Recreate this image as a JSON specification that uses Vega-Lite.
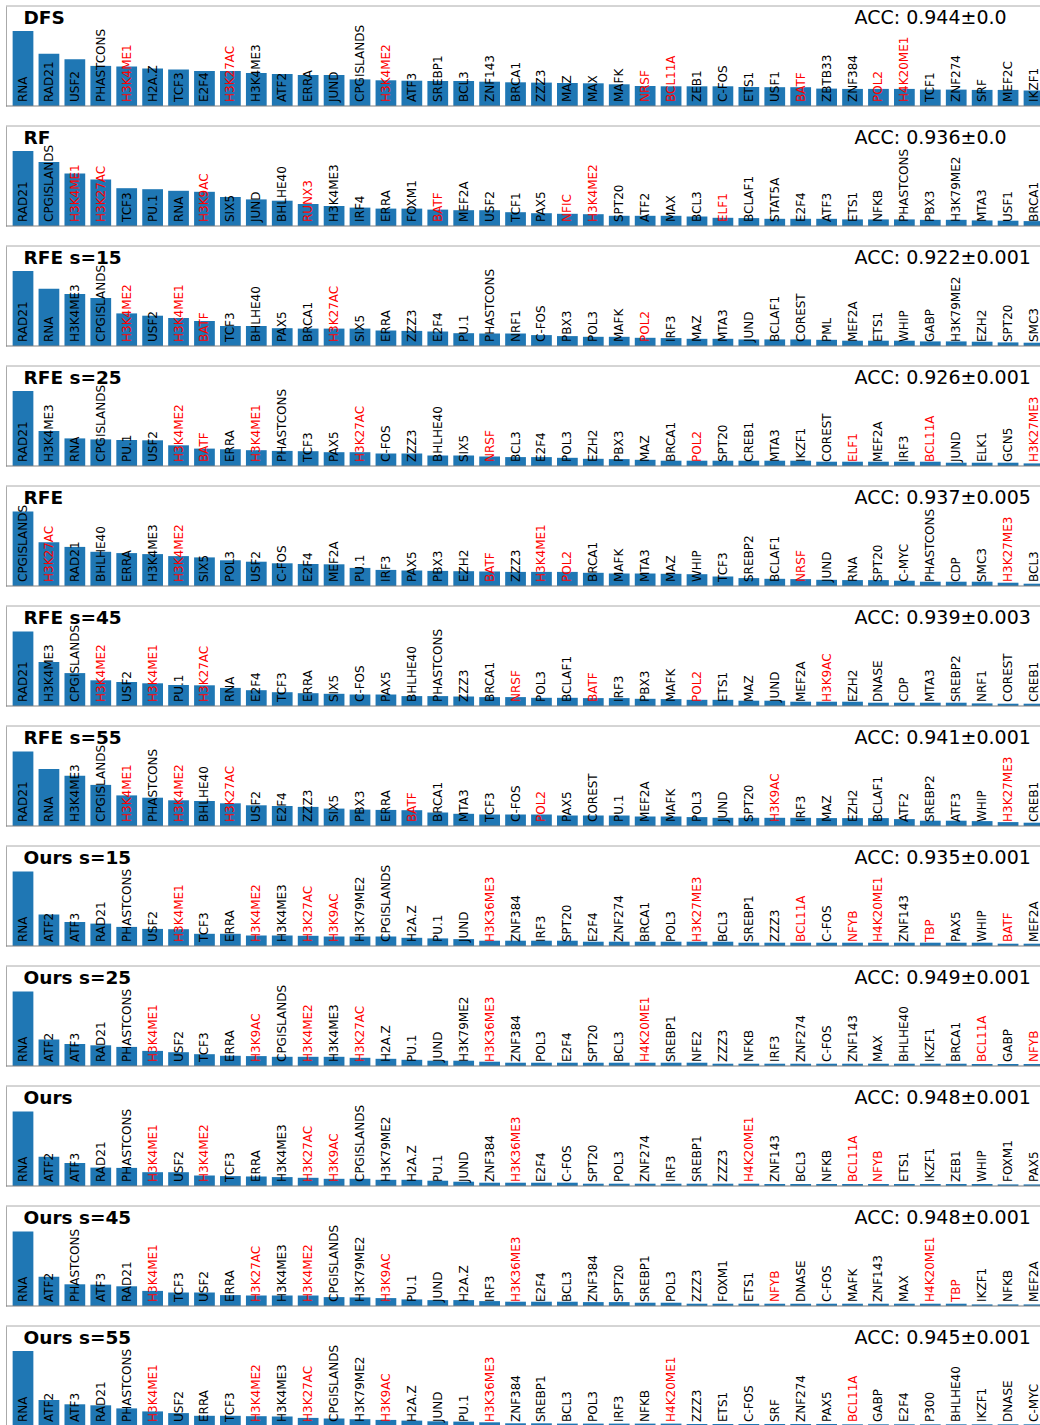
{
"$schema": "https://vega.github.io/schema/vega-lite/v6.json",
"padding": {"left": 5, "top": 5, "right": 0, "bottom": 0},
"spacing": 20,
"bounds": "flush",
"config": {
  "font": "DejaVu Sans",
  "view": {"stroke": null},
  "bar": {"color": "#1f77b4"},
  "scale": {"bandPaddingInner": 0.2, "bandPaddingOuter": 0.256},
  "axis": {"labels": false, "ticks": false, "grid": false, "minExtent": 0, "domainColor": "#aaaaaa", "titleColor": "#000000", "titleBaseline": "alphabetic", "titleY": 17},
  "axisX": {"domain": false, "titleX": 848, "titleAlign": "left", "titleFontSize": 19, "titleFontWeight": "normal"},
  "axisY": {"titleAngle": 0, "titleX": 17, "titleAlign": "left", "titleFontSize": 18.5, "titleFontWeight": "bold"}
},
"datasets": {
"p1": [
{"f":"RNA","v":75,"r":0},{"f":"RAD21","v":52.3,"r":0},{"f":"USF2","v":46.7,"r":0},{"f":"PHASTCONS","v":40.1,"r":0},{"f":"H3K4ME1","v":39.5,"r":1},{"f":"H2A.Z","v":37.5,"r":0},{"f":"TCF3","v":36.5,"r":0},{"f":"E2F4","v":35,"r":0},{"f":"H3K27AC","v":35,"r":1},{"f":"H3K4ME3","v":33,"r":0},{"f":"ATF2","v":32,"r":0},{"f":"ERRA","v":31,"r":0},{"f":"JUND","v":31,"r":0},{"f":"CPGISLANDS","v":26.6,"r":0},{"f":"H3K4ME2","v":25.7,"r":1},{"f":"ATF3","v":25.3,"r":0},{"f":"SREBP1","v":25,"r":0},{"f":"BCL3","v":25,"r":0},{"f":"ZNF143","v":24.3,"r":0},{"f":"BRCA1","v":23.7,"r":0},{"f":"ZZZ3","v":23.4,"r":0},{"f":"MAZ","v":23,"r":0},{"f":"MAX","v":22.7,"r":0},{"f":"MAFK","v":21.7,"r":0},{"f":"NRSF","v":20,"r":1},{"f":"BCL11A","v":19.7,"r":1},{"f":"ZEB1","v":19.7,"r":0},{"f":"C-FOS","v":19.7,"r":0},{"f":"ETS1","v":19,"r":0},{"f":"USF1","v":18.8,"r":0},{"f":"BATF","v":18.8,"r":1},{"f":"ZBTB33","v":17.4,"r":0},{"f":"ZNF384","v":17.1,"r":0},{"f":"POL2","v":17.1,"r":1},{"f":"H4K20ME1","v":17.1,"r":1},{"f":"TCF1","v":16.4,"r":0},{"f":"ZNF274","v":16.4,"r":0},{"f":"SRF","v":16.1,"r":0},{"f":"MEF2C","v":16.1,"r":0},{"f":"IKZF1","v":15.5,"r":0}
],
"p2": [
{"f":"RAD21","v":75,"r":0},{"f":"CPGISLANDS","v":64,"r":0},{"f":"H3K4ME1","v":52.6,"r":1},{"f":"H3K27AC","v":46.4,"r":1},{"f":"TCF3","v":37.8,"r":0},{"f":"PU.1","v":36.8,"r":0},{"f":"RNA","v":35.2,"r":0},{"f":"H3K9AC","v":34.2,"r":1},{"f":"SIX5","v":29,"r":0},{"f":"JUND","v":26.6,"r":0},{"f":"BHLHE40","v":25.3,"r":0},{"f":"RUNX3","v":22,"r":1},{"f":"H3K4ME3","v":20,"r":0},{"f":"IRF4","v":18.4,"r":0},{"f":"ERRA","v":17.4,"r":0},{"f":"FOXM1","v":17.4,"r":0},{"f":"BATF","v":16.4,"r":1},{"f":"MEF2A","v":15.8,"r":0},{"f":"USF2","v":15.8,"r":0},{"f":"TCF1","v":13.8,"r":0},{"f":"PAX5","v":12.8,"r":0},{"f":"NFIC","v":12.2,"r":1},{"f":"H3K4ME2","v":11.8,"r":1},{"f":"SPT20","v":10.2,"r":0},{"f":"ATF2","v":10.2,"r":0},{"f":"MAX","v":10.2,"r":0},{"f":"BCL3","v":9.5,"r":0},{"f":"ELF1","v":8.2,"r":1},{"f":"BCLAF1","v":7.9,"r":0},{"f":"STAT5A","v":7.2,"r":0},{"f":"E2F4","v":7.2,"r":0},{"f":"ATF3","v":7.2,"r":0},{"f":"ETS1","v":6.6,"r":0},{"f":"NFKB","v":6.6,"r":0},{"f":"PHASTCONS","v":6.6,"r":0},{"f":"PBX3","v":6.2,"r":0},{"f":"H3K79ME2","v":6.2,"r":0},{"f":"MTA3","v":5.6,"r":0},{"f":"USF1","v":5.3,"r":0},{"f":"BRCA1","v":4.9,"r":0}
],
"p3": [
{"f":"RAD21","v":75,"r":0},{"f":"RNA","v":57.2,"r":0},{"f":"H3K4ME3","v":52,"r":0},{"f":"CPGISLANDS","v":48,"r":0},{"f":"H3K4ME2","v":32.6,"r":1},{"f":"USF2","v":30.3,"r":0},{"f":"H3K4ME1","v":28,"r":1},{"f":"BATF","v":25,"r":1},{"f":"TCF3","v":20,"r":0},{"f":"BHLHE40","v":20,"r":0},{"f":"PAX5","v":17.8,"r":0},{"f":"BRCA1","v":17.4,"r":0},{"f":"H3K27AC","v":17.4,"r":1},{"f":"SIX5","v":17.4,"r":0},{"f":"ERRA","v":15.5,"r":0},{"f":"ZZZ3","v":15.1,"r":0},{"f":"E2F4","v":14.5,"r":0},{"f":"PU.1","v":12.8,"r":0},{"f":"PHASTCONS","v":12.5,"r":0},{"f":"NRF1","v":12.5,"r":0},{"f":"C-FOS","v":10.9,"r":0},{"f":"PBX3","v":9.9,"r":0},{"f":"POL3","v":9.2,"r":0},{"f":"MAFK","v":9.2,"r":0},{"f":"POL2","v":8.2,"r":1},{"f":"IRF3","v":7.9,"r":0},{"f":"MAZ","v":7.2,"r":0},{"f":"MTA3","v":7.2,"r":0},{"f":"JUND","v":6.6,"r":0},{"f":"BCLAF1","v":6.6,"r":0},{"f":"COREST","v":6.6,"r":0},{"f":"PML","v":6.2,"r":0},{"f":"MEF2A","v":5.3,"r":0},{"f":"ETS1","v":5.3,"r":0},{"f":"WHIP","v":5.3,"r":0},{"f":"GABP","v":4.6,"r":0},{"f":"H3K79ME2","v":4.6,"r":0},{"f":"EZH2","v":4.3,"r":0},{"f":"SPT20","v":3.6,"r":0},{"f":"SMC3","v":3.3,"r":0}
],
"p4": [
{"f":"RAD21","v":75,"r":0},{"f":"H3K4ME3","v":34.9,"r":0},{"f":"RNA","v":27.6,"r":0},{"f":"CPGISLANDS","v":26.6,"r":0},{"f":"PU.1","v":26,"r":0},{"f":"USF2","v":25.7,"r":0},{"f":"H3K4ME2","v":20.7,"r":1},{"f":"BATF","v":17.4,"r":1},{"f":"ERRA","v":16.8,"r":0},{"f":"H3K4ME1","v":15.8,"r":1},{"f":"PHASTCONS","v":15.1,"r":0},{"f":"TCF3","v":14.8,"r":0},{"f":"PAX5","v":13.8,"r":0},{"f":"H3K27AC","v":13.8,"r":1},{"f":"C-FOS","v":12.5,"r":0},{"f":"ZZZ3","v":12.5,"r":0},{"f":"BHLHE40","v":10.5,"r":0},{"f":"SIX5","v":10.5,"r":0},{"f":"NRSF","v":9.5,"r":1},{"f":"BCL3","v":8.9,"r":0},{"f":"E2F4","v":8.9,"r":0},{"f":"POL3","v":8.2,"r":0},{"f":"EZH2","v":7.2,"r":0},{"f":"PBX3","v":6.9,"r":0},{"f":"MAZ","v":6.2,"r":0},{"f":"BRCA1","v":5.3,"r":0},{"f":"POL2","v":5.3,"r":1},{"f":"SPT20","v":5.3,"r":0},{"f":"CREB1","v":5.3,"r":0},{"f":"MTA3","v":5.3,"r":0},{"f":"IKZF1","v":5.3,"r":0},{"f":"COREST","v":4.3,"r":0},{"f":"ELF1","v":4.3,"r":1},{"f":"MEF2A","v":4.3,"r":0},{"f":"IRF3","v":4.3,"r":0},{"f":"BCL11A","v":4.3,"r":1},{"f":"JUND","v":3.3,"r":0},{"f":"ELK1","v":3.3,"r":0},{"f":"GCN5","v":3.3,"r":0},{"f":"H3K27ME3","v":2.6,"r":1}
],
"p5": [
{"f":"CPGISLANDS","v":74.5,"r":0},{"f":"H3K27AC","v":43.8,"r":1},{"f":"RAD21","v":39.1,"r":0},{"f":"BHLHE40","v":34.2,"r":0},{"f":"ERRA","v":32.9,"r":0},{"f":"H3K4ME3","v":31.9,"r":0},{"f":"H3K4ME2","v":29.9,"r":1},{"f":"SIX5","v":28.6,"r":0},{"f":"POL3","v":25.7,"r":0},{"f":"USF2","v":24.3,"r":0},{"f":"C-FOS","v":22.7,"r":0},{"f":"E2F4","v":22,"r":0},{"f":"MEF2A","v":21.7,"r":0},{"f":"PU.1","v":18.1,"r":0},{"f":"IRF3","v":16.1,"r":0},{"f":"PAX5","v":15.5,"r":0},{"f":"PBX3","v":15.1,"r":0},{"f":"EZH2","v":14.8,"r":0},{"f":"BATF","v":14.5,"r":1},{"f":"ZZZ3","v":14.1,"r":0},{"f":"H3K4ME1","v":14.1,"r":1},{"f":"POL2","v":14.1,"r":1},{"f":"BRCA1","v":13.2,"r":0},{"f":"MAFK","v":12.5,"r":0},{"f":"MTA3","v":12.5,"r":0},{"f":"MAZ","v":12.2,"r":0},{"f":"WHIP","v":11.8,"r":0},{"f":"TCF3","v":9.5,"r":0},{"f":"SREBP2","v":7.9,"r":0},{"f":"BCLAF1","v":7.2,"r":0},{"f":"NRSF","v":6.9,"r":1},{"f":"JUND","v":6.2,"r":0},{"f":"RNA","v":5.9,"r":0},{"f":"SPT20","v":5.9,"r":0},{"f":"C-MYC","v":5.3,"r":0},{"f":"PHASTCONS","v":4.3,"r":0},{"f":"CDP","v":4.3,"r":0},{"f":"SMC3","v":4.3,"r":0},{"f":"H3K27ME3","v":3.3,"r":1},{"f":"BCL3","v":2.3,"r":0}
],
"p6": [
{"f":"RAD21","v":74.5,"r":0},{"f":"H3K4ME3","v":44,"r":0},{"f":"CPGISLANDS","v":32.9,"r":0},{"f":"H3K4ME2","v":25.7,"r":1},{"f":"USF2","v":24,"r":0},{"f":"H3K4ME1","v":22.7,"r":1},{"f":"PU.1","v":21,"r":0},{"f":"H3K27AC","v":20.7,"r":1},{"f":"RNA","v":18.1,"r":0},{"f":"E2F4","v":15.8,"r":0},{"f":"TCF3","v":13.8,"r":0},{"f":"ERRA","v":12.8,"r":0},{"f":"SIX5","v":12.2,"r":0},{"f":"C-FOS","v":11.5,"r":0},{"f":"PAX5","v":11.5,"r":0},{"f":"BHLHE40","v":9.9,"r":0},{"f":"PHASTCONS","v":9.9,"r":0},{"f":"ZZZ3","v":9.5,"r":0},{"f":"BRCA1","v":8.9,"r":0},{"f":"NRSF","v":8.9,"r":1},{"f":"POL3","v":8.2,"r":0},{"f":"BCLAF1","v":8.2,"r":0},{"f":"BATF","v":7.9,"r":1},{"f":"IRF3","v":7.9,"r":0},{"f":"PBX3","v":7.2,"r":0},{"f":"MAFK","v":6.9,"r":0},{"f":"POL2","v":6.2,"r":1},{"f":"ETS1","v":6.2,"r":0},{"f":"MAZ","v":5.3,"r":0},{"f":"JUND","v":5.3,"r":0},{"f":"MEF2A","v":4.3,"r":0},{"f":"H3K9AC","v":4.3,"r":1},{"f":"EZH2","v":4.3,"r":0},{"f":"DNASE","v":3.3,"r":0},{"f":"CDP","v":3.3,"r":0},{"f":"MTA3","v":3.3,"r":0},{"f":"SREBP2","v":3.3,"r":0},{"f":"NRF1","v":2.6,"r":0},{"f":"COREST","v":2.3,"r":0},{"f":"CREB1","v":2.3,"r":0}
],
"p7": [
{"f":"RAD21","v":74.5,"r":0},{"f":"RNA","v":56.9,"r":0},{"f":"H3K4ME3","v":50.3,"r":0},{"f":"CPGISLANDS","v":41.1,"r":0},{"f":"H3K4ME1","v":30.6,"r":1},{"f":"PHASTCONS","v":28.3,"r":0},{"f":"H3K4ME2","v":25.7,"r":1},{"f":"BHLHE40","v":25,"r":0},{"f":"H3K27AC","v":22.7,"r":1},{"f":"USF2","v":20.7,"r":0},{"f":"E2F4","v":20,"r":0},{"f":"ZZZ3","v":19.1,"r":0},{"f":"SIX5","v":17.4,"r":0},{"f":"PBX3","v":16.4,"r":0},{"f":"ERRA","v":16.1,"r":0},{"f":"BATF","v":15.8,"r":1},{"f":"BRCA1","v":13.5,"r":0},{"f":"MTA3","v":12.2,"r":0},{"f":"TCF3","v":11.5,"r":0},{"f":"C-FOS","v":11.5,"r":0},{"f":"POL2","v":11.5,"r":1},{"f":"PAX5","v":10.5,"r":0},{"f":"COREST","v":10.5,"r":0},{"f":"PU.1","v":10.5,"r":0},{"f":"MEF2A","v":9.5,"r":0},{"f":"MAFK","v":9.5,"r":0},{"f":"POL3","v":8.9,"r":0},{"f":"JUND","v":8.2,"r":0},{"f":"SPT20","v":8.2,"r":0},{"f":"H3K9AC","v":8.2,"r":1},{"f":"IRF3","v":8.2,"r":0},{"f":"MAZ","v":7.9,"r":0},{"f":"EZH2","v":7.9,"r":0},{"f":"BCLAF1","v":7.9,"r":0},{"f":"ATF2","v":6.9,"r":0},{"f":"SREBP2","v":5.3,"r":0},{"f":"ATF3","v":5.3,"r":0},{"f":"WHIP","v":4.9,"r":0},{"f":"H3K27ME3","v":3.9,"r":1},{"f":"CREB1","v":3.3,"r":0}
],
"p8": [
{"f":"RNA","v":74.5,"r":0},{"f":"ATF2","v":31.6,"r":0},{"f":"ATF3","v":24,"r":0},{"f":"RAD21","v":22.4,"r":0},{"f":"PHASTCONS","v":19.1,"r":0},{"f":"USF2","v":17.1,"r":0},{"f":"H3K4ME1","v":16.8,"r":1},{"f":"TCF3","v":12.2,"r":0},{"f":"ERRA","v":12.2,"r":0},{"f":"H3K4ME2","v":10.5,"r":1},{"f":"H3K4ME3","v":10.5,"r":0},{"f":"H3K27AC","v":10.2,"r":1},{"f":"H3K9AC","v":9.5,"r":1},{"f":"H3K79ME2","v":9.5,"r":0},{"f":"CPGISLANDS","v":9.5,"r":0},{"f":"H2A.Z","v":8.2,"r":0},{"f":"PU.1","v":7.6,"r":0},{"f":"JUND","v":6.9,"r":0},{"f":"H3K36ME3","v":5.3,"r":1},{"f":"ZNF384","v":5.3,"r":0},{"f":"IRF3","v":5.3,"r":0},{"f":"SPT20","v":5.3,"r":0},{"f":"E2F4","v":4.3,"r":0},{"f":"ZNF274","v":4.3,"r":0},{"f":"BRCA1","v":4.3,"r":0},{"f":"POL3","v":4.3,"r":0},{"f":"H3K27ME3","v":4.3,"r":1},{"f":"BCL3","v":4.3,"r":0},{"f":"SREBP1","v":3.3,"r":0},{"f":"ZZZ3","v":3.3,"r":0},{"f":"BCL11A","v":3.3,"r":1},{"f":"C-FOS","v":3.3,"r":0},{"f":"NFYB","v":3.3,"r":1},{"f":"H4K20ME1","v":3.3,"r":1},{"f":"ZNF143","v":3.3,"r":0},{"f":"TBP","v":3.3,"r":1},{"f":"PAX5","v":3.3,"r":0},{"f":"WHIP","v":3.3,"r":0},{"f":"BATF","v":2.3,"r":1},{"f":"MEF2A","v":2.3,"r":0}
],
"p9": [
{"f":"RNA","v":74.5,"r":0},{"f":"ATF2","v":26.6,"r":0},{"f":"ATF3","v":22,"r":0},{"f":"RAD21","v":20.7,"r":0},{"f":"PHASTCONS","v":19.1,"r":0},{"f":"H3K4ME1","v":15.1,"r":1},{"f":"USF2","v":13.8,"r":0},{"f":"TCF3","v":11.8,"r":0},{"f":"ERRA","v":10.2,"r":0},{"f":"H3K9AC","v":9.9,"r":1},{"f":"CPGISLANDS","v":9.2,"r":0},{"f":"H3K4ME2","v":9.2,"r":1},{"f":"H3K4ME3","v":9.2,"r":0},{"f":"H3K27AC","v":8.2,"r":1},{"f":"H2A.Z","v":7.2,"r":0},{"f":"PU.1","v":6.2,"r":0},{"f":"JUND","v":5.3,"r":0},{"f":"H3K79ME2","v":5.3,"r":0},{"f":"H3K36ME3","v":4.3,"r":1},{"f":"ZNF384","v":3.3,"r":0},{"f":"POL3","v":3.3,"r":0},{"f":"E2F4","v":3.3,"r":0},{"f":"SPT20","v":3.3,"r":0},{"f":"BCL3","v":3.3,"r":0},{"f":"H4K20ME1","v":3.3,"r":1},{"f":"SREBP1","v":3.3,"r":0},{"f":"NFE2","v":3.3,"r":0},{"f":"ZZZ3","v":2.3,"r":0},{"f":"NFKB","v":2.3,"r":0},{"f":"IRF3","v":2.3,"r":0},{"f":"ZNF274","v":2.3,"r":0},{"f":"C-FOS","v":2.3,"r":0},{"f":"ZNF143","v":2.3,"r":0},{"f":"MAX","v":2.3,"r":0},{"f":"BHLHE40","v":2.3,"r":0},{"f":"IKZF1","v":2.3,"r":0},{"f":"BRCA1","v":2.3,"r":0},{"f":"BCL11A","v":2,"r":1},{"f":"GABP","v":2,"r":0},{"f":"NFYB","v":2,"r":1}
],
"p10": [
{"f":"RNA","v":74.5,"r":0},{"f":"ATF2","v":29.3,"r":0},{"f":"ATF3","v":23,"r":0},{"f":"RAD21","v":18.4,"r":0},{"f":"PHASTCONS","v":18.1,"r":0},{"f":"H3K4ME1","v":13.8,"r":1},{"f":"USF2","v":13.8,"r":0},{"f":"H3K4ME2","v":10.5,"r":1},{"f":"TCF3","v":9.9,"r":0},{"f":"ERRA","v":9.5,"r":0},{"f":"H3K4ME3","v":8.9,"r":0},{"f":"H3K27AC","v":8.2,"r":1},{"f":"H3K9AC","v":7.2,"r":1},{"f":"CPGISLANDS","v":7.2,"r":0},{"f":"H3K79ME2","v":6.2,"r":0},{"f":"H2A.Z","v":6.2,"r":0},{"f":"PU.1","v":5.3,"r":0},{"f":"JUND","v":4.3,"r":0},{"f":"ZNF384","v":3.3,"r":0},{"f":"H3K36ME3","v":3.3,"r":1},{"f":"E2F4","v":3.3,"r":0},{"f":"C-FOS","v":3.3,"r":0},{"f":"SPT20","v":2.3,"r":0},{"f":"POL3","v":2.3,"r":0},{"f":"ZNF274","v":2.3,"r":0},{"f":"IRF3","v":2.3,"r":0},{"f":"SREBP1","v":2.3,"r":0},{"f":"ZZZ3","v":2.3,"r":0},{"f":"H4K20ME1","v":2.3,"r":1},{"f":"ZNF143","v":2,"r":0},{"f":"BCL3","v":2,"r":0},{"f":"NFKB","v":2,"r":0},{"f":"BCL11A","v":2,"r":1},{"f":"NFYB","v":2,"r":1},{"f":"ETS1","v":2,"r":0},{"f":"IKZF1","v":2,"r":0},{"f":"ZEB1","v":2,"r":0},{"f":"WHIP","v":2,"r":0},{"f":"FOXM1","v":1.6,"r":0},{"f":"PAX5","v":1.6,"r":0}
],
"p11": [
{"f":"RNA","v":74.5,"r":0},{"f":"ATF2","v":29.3,"r":0},{"f":"PHASTCONS","v":21.7,"r":0},{"f":"ATF3","v":21.4,"r":0},{"f":"RAD21","v":19.7,"r":0},{"f":"H3K4ME1","v":15.1,"r":1},{"f":"TCF3","v":13.5,"r":0},{"f":"USF2","v":13.5,"r":0},{"f":"ERRA","v":10.9,"r":0},{"f":"H3K27AC","v":10.5,"r":1},{"f":"H3K4ME3","v":10.5,"r":0},{"f":"H3K4ME2","v":10.5,"r":1},{"f":"CPGISLANDS","v":8.9,"r":0},{"f":"H3K79ME2","v":8.6,"r":0},{"f":"H3K9AC","v":7.9,"r":1},{"f":"PU.1","v":6.6,"r":0},{"f":"JUND","v":5.9,"r":0},{"f":"H2A.Z","v":5.9,"r":0},{"f":"IRF3","v":4.9,"r":0},{"f":"H3K36ME3","v":4.3,"r":1},{"f":"E2F4","v":4.3,"r":0},{"f":"BCL3","v":4.3,"r":0},{"f":"ZNF384","v":3.9,"r":0},{"f":"SPT20","v":3.9,"r":0},{"f":"SREBP1","v":3.3,"r":0},{"f":"POL3","v":3.3,"r":0},{"f":"ZZZ3","v":2.3,"r":0},{"f":"FOXM1","v":2.3,"r":0},{"f":"ETS1","v":2.3,"r":0},{"f":"NFYB","v":2.3,"r":1},{"f":"DNASE","v":2.3,"r":0},{"f":"C-FOS","v":2.3,"r":0},{"f":"MAFK","v":2.3,"r":0},{"f":"ZNF143","v":2.3,"r":0},{"f":"MAX","v":2.3,"r":0},{"f":"H4K20ME1","v":2.3,"r":1},{"f":"TBP","v":2.3,"r":1},{"f":"IKZF1","v":1.6,"r":0},{"f":"NFKB","v":1.6,"r":0},{"f":"MEF2A","v":1.6,"r":0}
],
"p12": [
{"f":"RNA","v":75,"r":0},{"f":"ATF2","v":26,"r":0},{"f":"ATF3","v":21.7,"r":0},{"f":"RAD21","v":20.7,"r":0},{"f":"PHASTCONS","v":17.6,"r":0},{"f":"H3K4ME1","v":14.6,"r":1},{"f":"USF2","v":12.9,"r":0},{"f":"ERRA","v":10.2,"r":0},{"f":"TCF3","v":10.2,"r":0},{"f":"H3K4ME2","v":9.8,"r":1},{"f":"H3K4ME3","v":9.5,"r":0},{"f":"H3K27AC","v":8.1,"r":1},{"f":"CPGISLANDS","v":7.5,"r":0},{"f":"H3K79ME2","v":6.8,"r":0},{"f":"H3K9AC","v":6.1,"r":1},{"f":"H2A.Z","v":5.4,"r":0},{"f":"JUND","v":4.7,"r":0},{"f":"PU.1","v":4.4,"r":0},{"f":"H3K36ME3","v":3.7,"r":1},{"f":"ZNF384","v":2.7,"r":0},{"f":"SREBP1","v":2.7,"r":0},{"f":"BCL3","v":2.4,"r":0},{"f":"POL3","v":2.4,"r":0},{"f":"IRF3","v":2.4,"r":0},{"f":"NFKB","v":2.4,"r":0},{"f":"H4K20ME1","v":2.4,"r":1},{"f":"ZZZ3","v":2,"r":0},{"f":"ETS1","v":2,"r":0},{"f":"C-FOS","v":2,"r":0},{"f":"SRF","v":2,"r":0},{"f":"ZNF274","v":2,"r":0},{"f":"PAX5","v":2,"r":0},{"f":"BCL11A","v":1.7,"r":1},{"f":"GABP","v":1.7,"r":0},{"f":"E2F4","v":1.7,"r":0},{"f":"P300","v":1.7,"r":0},{"f":"BHLHE40","v":1.7,"r":0},{"f":"IKZF1","v":1.7,"r":0},{"f":"DNASE","v":1.7,"r":0},{"f":"C-MYC","v":1.7,"r":0}
]
},
"vconcat": [
{"width":1034,"height":100,"data":{"name":"p1"},"layer":[
 {"mark":{"type":"bar","clip":true},"encoding":{"x":{"field":"f","type":"nominal","sort":null,"scale":{"range":[0,1045]},"axis":{"orient":"top","title":"ACC: 0.944±0.0"}},"y":{"field":"v","type":"quantitative","scale":{"domain":[0,100]},"axis":{"title":"DFS"}}}},
 {"mark":{"type":"text","angle":270,"align":"left","baseline":"middle","dx":4,"fontSize":12,"clip":true},"encoding":{"x":{"field":"f","type":"nominal","sort":null,"scale":{"range":[0,1045]},"axis":{"orient":"top","title":"ACC: 0.944±0.0"}},"y":{"datum":0,"type":"quantitative","axis":{"title":"DFS"}},"text":{"field":"f"},"color":{"condition":{"test":"datum.r","value":"#ff0000"},"value":"#000000"}}},
 {"data":{"values":[{}]},"mark":{"type":"rule","color":"#aaaaaa"},"encoding":{"y":{"datum":100,"type":"quantitative","axis":{"title":"DFS"}}}},
 {"data":{"values":[{}]},"mark":{"type":"rule","color":"#808080","strokeWidth":1.2},"encoding":{"y":{"datum":0,"type":"quantitative","axis":{"title":"DFS"}}}}
]},
{"width":1034,"height":100,"data":{"name":"p2"},"layer":[
 {"mark":{"type":"bar","clip":true},"encoding":{"x":{"field":"f","type":"nominal","sort":null,"scale":{"range":[0,1045]},"axis":{"orient":"top","title":"ACC: 0.936±0.0"}},"y":{"field":"v","type":"quantitative","scale":{"domain":[0,100]},"axis":{"title":"RF"}}}},
 {"mark":{"type":"text","angle":270,"align":"left","baseline":"middle","dx":4,"fontSize":12,"clip":true},"encoding":{"x":{"field":"f","type":"nominal","sort":null,"scale":{"range":[0,1045]},"axis":{"orient":"top","title":"ACC: 0.936±0.0"}},"y":{"datum":0,"type":"quantitative","axis":{"title":"RF"}},"text":{"field":"f"},"color":{"condition":{"test":"datum.r","value":"#ff0000"},"value":"#000000"}}},
 {"data":{"values":[{}]},"mark":{"type":"rule","color":"#aaaaaa"},"encoding":{"y":{"datum":100,"type":"quantitative","axis":{"title":"RF"}}}},
 {"data":{"values":[{}]},"mark":{"type":"rule","color":"#808080","strokeWidth":1.2},"encoding":{"y":{"datum":0,"type":"quantitative","axis":{"title":"RF"}}}}
]},
{"width":1034,"height":100,"data":{"name":"p3"},"layer":[
 {"mark":{"type":"bar","clip":true},"encoding":{"x":{"field":"f","type":"nominal","sort":null,"scale":{"range":[0,1045]},"axis":{"orient":"top","title":"ACC: 0.922±0.001"}},"y":{"field":"v","type":"quantitative","scale":{"domain":[0,100]},"axis":{"title":"RFE s=15"}}}},
 {"mark":{"type":"text","angle":270,"align":"left","baseline":"middle","dx":4,"fontSize":12,"clip":true},"encoding":{"x":{"field":"f","type":"nominal","sort":null,"scale":{"range":[0,1045]},"axis":{"orient":"top","title":"ACC: 0.922±0.001"}},"y":{"datum":0,"type":"quantitative","axis":{"title":"RFE s=15"}},"text":{"field":"f"},"color":{"condition":{"test":"datum.r","value":"#ff0000"},"value":"#000000"}}},
 {"data":{"values":[{}]},"mark":{"type":"rule","color":"#aaaaaa"},"encoding":{"y":{"datum":100,"type":"quantitative","axis":{"title":"RFE s=15"}}}},
 {"data":{"values":[{}]},"mark":{"type":"rule","color":"#808080","strokeWidth":1.2},"encoding":{"y":{"datum":0,"type":"quantitative","axis":{"title":"RFE s=15"}}}}
]},
{"width":1034,"height":100,"data":{"name":"p4"},"layer":[
 {"mark":{"type":"bar","clip":true},"encoding":{"x":{"field":"f","type":"nominal","sort":null,"scale":{"range":[0,1045]},"axis":{"orient":"top","title":"ACC: 0.926±0.001"}},"y":{"field":"v","type":"quantitative","scale":{"domain":[0,100]},"axis":{"title":"RFE s=25"}}}},
 {"mark":{"type":"text","angle":270,"align":"left","baseline":"middle","dx":4,"fontSize":12,"clip":true},"encoding":{"x":{"field":"f","type":"nominal","sort":null,"scale":{"range":[0,1045]},"axis":{"orient":"top","title":"ACC: 0.926±0.001"}},"y":{"datum":0,"type":"quantitative","axis":{"title":"RFE s=25"}},"text":{"field":"f"},"color":{"condition":{"test":"datum.r","value":"#ff0000"},"value":"#000000"}}},
 {"data":{"values":[{}]},"mark":{"type":"rule","color":"#aaaaaa"},"encoding":{"y":{"datum":100,"type":"quantitative","axis":{"title":"RFE s=25"}}}},
 {"data":{"values":[{}]},"mark":{"type":"rule","color":"#808080","strokeWidth":1.2},"encoding":{"y":{"datum":0,"type":"quantitative","axis":{"title":"RFE s=25"}}}}
]},
{"width":1034,"height":100,"data":{"name":"p5"},"layer":[
 {"mark":{"type":"bar","clip":true},"encoding":{"x":{"field":"f","type":"nominal","sort":null,"scale":{"range":[0,1045]},"axis":{"orient":"top","title":"ACC: 0.937±0.005"}},"y":{"field":"v","type":"quantitative","scale":{"domain":[0,100]},"axis":{"title":"RFE"}}}},
 {"mark":{"type":"text","angle":270,"align":"left","baseline":"middle","dx":4,"fontSize":12,"clip":true},"encoding":{"x":{"field":"f","type":"nominal","sort":null,"scale":{"range":[0,1045]},"axis":{"orient":"top","title":"ACC: 0.937±0.005"}},"y":{"datum":0,"type":"quantitative","axis":{"title":"RFE"}},"text":{"field":"f"},"color":{"condition":{"test":"datum.r","value":"#ff0000"},"value":"#000000"}}},
 {"data":{"values":[{}]},"mark":{"type":"rule","color":"#aaaaaa"},"encoding":{"y":{"datum":100,"type":"quantitative","axis":{"title":"RFE"}}}},
 {"data":{"values":[{}]},"mark":{"type":"rule","color":"#808080","strokeWidth":1.2},"encoding":{"y":{"datum":0,"type":"quantitative","axis":{"title":"RFE"}}}}
]},
{"width":1034,"height":100,"data":{"name":"p6"},"layer":[
 {"mark":{"type":"bar","clip":true},"encoding":{"x":{"field":"f","type":"nominal","sort":null,"scale":{"range":[0,1045]},"axis":{"orient":"top","title":"ACC: 0.939±0.003"}},"y":{"field":"v","type":"quantitative","scale":{"domain":[0,100]},"axis":{"title":"RFE s=45"}}}},
 {"mark":{"type":"text","angle":270,"align":"left","baseline":"middle","dx":4,"fontSize":12,"clip":true},"encoding":{"x":{"field":"f","type":"nominal","sort":null,"scale":{"range":[0,1045]},"axis":{"orient":"top","title":"ACC: 0.939±0.003"}},"y":{"datum":0,"type":"quantitative","axis":{"title":"RFE s=45"}},"text":{"field":"f"},"color":{"condition":{"test":"datum.r","value":"#ff0000"},"value":"#000000"}}},
 {"data":{"values":[{}]},"mark":{"type":"rule","color":"#aaaaaa"},"encoding":{"y":{"datum":100,"type":"quantitative","axis":{"title":"RFE s=45"}}}},
 {"data":{"values":[{}]},"mark":{"type":"rule","color":"#808080","strokeWidth":1.2},"encoding":{"y":{"datum":0,"type":"quantitative","axis":{"title":"RFE s=45"}}}}
]},
{"width":1034,"height":100,"data":{"name":"p7"},"layer":[
 {"mark":{"type":"bar","clip":true},"encoding":{"x":{"field":"f","type":"nominal","sort":null,"scale":{"range":[0,1045]},"axis":{"orient":"top","title":"ACC: 0.941±0.001"}},"y":{"field":"v","type":"quantitative","scale":{"domain":[0,100]},"axis":{"title":"RFE s=55"}}}},
 {"mark":{"type":"text","angle":270,"align":"left","baseline":"middle","dx":4,"fontSize":12,"clip":true},"encoding":{"x":{"field":"f","type":"nominal","sort":null,"scale":{"range":[0,1045]},"axis":{"orient":"top","title":"ACC: 0.941±0.001"}},"y":{"datum":0,"type":"quantitative","axis":{"title":"RFE s=55"}},"text":{"field":"f"},"color":{"condition":{"test":"datum.r","value":"#ff0000"},"value":"#000000"}}},
 {"data":{"values":[{}]},"mark":{"type":"rule","color":"#aaaaaa"},"encoding":{"y":{"datum":100,"type":"quantitative","axis":{"title":"RFE s=55"}}}},
 {"data":{"values":[{}]},"mark":{"type":"rule","color":"#808080","strokeWidth":1.2},"encoding":{"y":{"datum":0,"type":"quantitative","axis":{"title":"RFE s=55"}}}}
]},
{"width":1034,"height":100,"data":{"name":"p8"},"layer":[
 {"mark":{"type":"bar","clip":true},"encoding":{"x":{"field":"f","type":"nominal","sort":null,"scale":{"range":[0,1045]},"axis":{"orient":"top","title":"ACC: 0.935±0.001"}},"y":{"field":"v","type":"quantitative","scale":{"domain":[0,100]},"axis":{"title":"Ours s=15"}}}},
 {"mark":{"type":"text","angle":270,"align":"left","baseline":"middle","dx":4,"fontSize":12,"clip":true},"encoding":{"x":{"field":"f","type":"nominal","sort":null,"scale":{"range":[0,1045]},"axis":{"orient":"top","title":"ACC: 0.935±0.001"}},"y":{"datum":0,"type":"quantitative","axis":{"title":"Ours s=15"}},"text":{"field":"f"},"color":{"condition":{"test":"datum.r","value":"#ff0000"},"value":"#000000"}}},
 {"data":{"values":[{}]},"mark":{"type":"rule","color":"#aaaaaa"},"encoding":{"y":{"datum":100,"type":"quantitative","axis":{"title":"Ours s=15"}}}},
 {"data":{"values":[{}]},"mark":{"type":"rule","color":"#808080","strokeWidth":1.2},"encoding":{"y":{"datum":0,"type":"quantitative","axis":{"title":"Ours s=15"}}}}
]},
{"width":1034,"height":100,"data":{"name":"p9"},"layer":[
 {"mark":{"type":"bar","clip":true},"encoding":{"x":{"field":"f","type":"nominal","sort":null,"scale":{"range":[0,1045]},"axis":{"orient":"top","title":"ACC: 0.949±0.001"}},"y":{"field":"v","type":"quantitative","scale":{"domain":[0,100]},"axis":{"title":"Ours s=25"}}}},
 {"mark":{"type":"text","angle":270,"align":"left","baseline":"middle","dx":4,"fontSize":12,"clip":true},"encoding":{"x":{"field":"f","type":"nominal","sort":null,"scale":{"range":[0,1045]},"axis":{"orient":"top","title":"ACC: 0.949±0.001"}},"y":{"datum":0,"type":"quantitative","axis":{"title":"Ours s=25"}},"text":{"field":"f"},"color":{"condition":{"test":"datum.r","value":"#ff0000"},"value":"#000000"}}},
 {"data":{"values":[{}]},"mark":{"type":"rule","color":"#aaaaaa"},"encoding":{"y":{"datum":100,"type":"quantitative","axis":{"title":"Ours s=25"}}}},
 {"data":{"values":[{}]},"mark":{"type":"rule","color":"#808080","strokeWidth":1.2},"encoding":{"y":{"datum":0,"type":"quantitative","axis":{"title":"Ours s=25"}}}}
]},
{"width":1034,"height":100,"data":{"name":"p10"},"layer":[
 {"mark":{"type":"bar","clip":true},"encoding":{"x":{"field":"f","type":"nominal","sort":null,"scale":{"range":[0,1045]},"axis":{"orient":"top","title":"ACC: 0.948±0.001"}},"y":{"field":"v","type":"quantitative","scale":{"domain":[0,100]},"axis":{"title":"Ours"}}}},
 {"mark":{"type":"text","angle":270,"align":"left","baseline":"middle","dx":4,"fontSize":12,"clip":true},"encoding":{"x":{"field":"f","type":"nominal","sort":null,"scale":{"range":[0,1045]},"axis":{"orient":"top","title":"ACC: 0.948±0.001"}},"y":{"datum":0,"type":"quantitative","axis":{"title":"Ours"}},"text":{"field":"f"},"color":{"condition":{"test":"datum.r","value":"#ff0000"},"value":"#000000"}}},
 {"data":{"values":[{}]},"mark":{"type":"rule","color":"#aaaaaa"},"encoding":{"y":{"datum":100,"type":"quantitative","axis":{"title":"Ours"}}}},
 {"data":{"values":[{}]},"mark":{"type":"rule","color":"#808080","strokeWidth":1.2},"encoding":{"y":{"datum":0,"type":"quantitative","axis":{"title":"Ours"}}}}
]},
{"width":1034,"height":100,"data":{"name":"p11"},"layer":[
 {"mark":{"type":"bar","clip":true},"encoding":{"x":{"field":"f","type":"nominal","sort":null,"scale":{"range":[0,1045]},"axis":{"orient":"top","title":"ACC: 0.948±0.001"}},"y":{"field":"v","type":"quantitative","scale":{"domain":[0,100]},"axis":{"title":"Ours s=45"}}}},
 {"mark":{"type":"text","angle":270,"align":"left","baseline":"middle","dx":4,"fontSize":12,"clip":true},"encoding":{"x":{"field":"f","type":"nominal","sort":null,"scale":{"range":[0,1045]},"axis":{"orient":"top","title":"ACC: 0.948±0.001"}},"y":{"datum":0,"type":"quantitative","axis":{"title":"Ours s=45"}},"text":{"field":"f"},"color":{"condition":{"test":"datum.r","value":"#ff0000"},"value":"#000000"}}},
 {"data":{"values":[{}]},"mark":{"type":"rule","color":"#aaaaaa"},"encoding":{"y":{"datum":100,"type":"quantitative","axis":{"title":"Ours s=45"}}}},
 {"data":{"values":[{}]},"mark":{"type":"rule","color":"#808080","strokeWidth":1.2},"encoding":{"y":{"datum":0,"type":"quantitative","axis":{"title":"Ours s=45"}}}}
]},
{"width":1034,"height":100,"data":{"name":"p12"},"layer":[
 {"mark":{"type":"bar","clip":true},"encoding":{"x":{"field":"f","type":"nominal","sort":null,"scale":{"range":[0,1045]},"axis":{"orient":"top","title":"ACC: 0.945±0.001"}},"y":{"field":"v","type":"quantitative","scale":{"domain":[0,100]},"axis":{"title":"Ours s=55"}}}},
 {"mark":{"type":"text","angle":270,"align":"left","baseline":"middle","dx":4,"fontSize":12,"clip":true},"encoding":{"x":{"field":"f","type":"nominal","sort":null,"scale":{"range":[0,1045]},"axis":{"orient":"top","title":"ACC: 0.945±0.001"}},"y":{"datum":0,"type":"quantitative","axis":{"title":"Ours s=55"}},"text":{"field":"f"},"color":{"condition":{"test":"datum.r","value":"#ff0000"},"value":"#000000"}}},
 {"data":{"values":[{}]},"mark":{"type":"rule","color":"#aaaaaa"},"encoding":{"y":{"datum":100,"type":"quantitative","axis":{"title":"Ours s=55"}}}},
 {"data":{"values":[{}]},"mark":{"type":"rule","color":"#808080","strokeWidth":1.2},"encoding":{"y":{"datum":0,"type":"quantitative","axis":{"title":"Ours s=55"}}}}
]}
]
}
